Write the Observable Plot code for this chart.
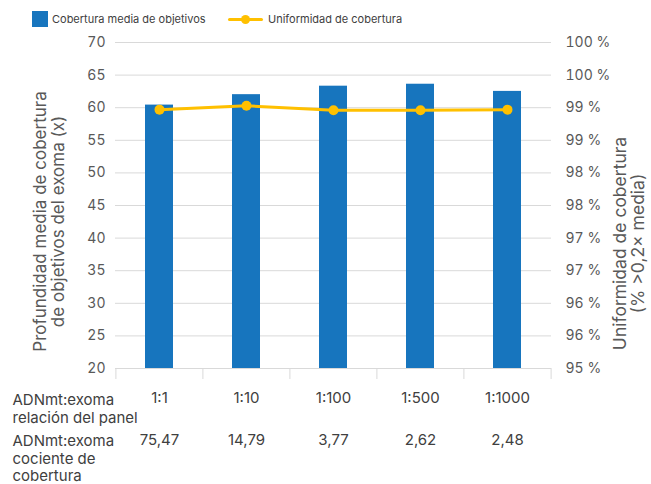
<!DOCTYPE html>
<html>
<head>
<meta charset="utf-8">
<script src="https://cdn.jsdelivr.net/npm/d3@7"></script>
<script src="https://cdn.jsdelivr.net/npm/@observablehq/plot@0.6"></script>
<style>
  html, body { margin: 0; padding: 0; background: #ffffff; }
  #wrap { position: relative; width: 651px; height: 484px; font-family: Inter, "Noto Sans", sans-serif; }
  #chart { position: absolute; left: 0; top: 0; }
  .leg { position: absolute; font-size: 11px; line-height: 14px; color: #404040; white-space: nowrap; }
</style>
</head>
<body>
<div id="wrap">
  <div id="chart"></div>
  <div class="leg" style="left:32px; top:11px; width:16px; height:16px; background:#1775be;"></div>
  <div class="leg" style="left:52px; top:12px;">Cobertura media de objetivos</div>
  <div class="leg" style="left:228px; top:18px; width:35px; height:3px; background:#ffc000; border-radius:2px;"></div>
  <div class="leg" style="left:241px; top:15px; width:9px; height:9px; background:#ffc000; border-radius:50%;"></div>
  <div class="leg" style="left:268px; top:12px;">Uniformidad de cobertura</div>
</div>
<script>
// ---- data ----
const categories = ["1:1", "1:10", "1:100", "1:500", "1:1000"];
const coverageRatios = ["75,47", "14,79", "3,77", "2,62", "2,48"];
const meanDepth = [60.4, 62.0, 63.3, 63.6, 62.5];
const uniformity = [98.97, 99.03, 98.96, 98.96, 98.97];
const leftTicks = [20, 25, 30, 35, 40, 45, 50, 55, 60, 65, 70];
const rightTicks = [95, 95.5, 96, 96.5, 97, 97.5, 98, 98.5, 99, 99.5, 100];
const rightTickLabels = ["95 %", "96 %", "96 %", "97 %", "97 %", "98 %", "98 %", "99 %", "99 %", "100 %", "100 %"];
const leftTitle = "Profundidad media de cobertura\nde objetivos del exoma (x)";
const rightTitle = "Uniformidad de cobertura\n(% >0,2× media)";
const rowLabel1 = "ADNmt:exoma\nrelación del panel";
const rowLabel2 = "ADNmt:exoma\ncociente de\ncobertura";

// ---- build ----
const yMin = leftTicks[0], yMax = leftTicks[leftTicks.length - 1];
const rMin = rightTicks[0], rMax = rightTicks[rightTicks.length - 1];
const toLeft = v => yMin + (v - rMin) * (yMax - yMin) / (rMax - rMin);
const rightMap = new Map(rightTicks.map((t, i) => [Math.round(toLeft(t) * 1000) / 1000, rightTickLabels[i]]));

const data = categories.map((c, i) => ({cat: c, depth: meanDepth[i], unif: uniformity[i], ratio: coverageRatios[i]}));

const W = 651, H = 484, mL = 115, mR = 100, mT = 42, mB = 116;
const step = (W - mL - mR) / categories.length;
const grid = "#d9d9d9";
const tickColor = "#595959";
const textColor = "#404040";

const chart = Plot.plot({
  width: W, height: H,
  marginLeft: mL, marginRight: mR, marginTop: mT, marginBottom: mB,
  style: {fontFamily: "Inter, 'Noto Sans', sans-serif", fontSize: "14px", color: tickColor, background: "transparent", overflow: "visible"},
  x: {domain: categories, paddingInner: 0.68, paddingOuter: 0.34},
  y: {domain: [yMin, yMax]},
  marks: [
    Plot.gridY(leftTicks, {stroke: grid, strokeOpacity: 1, strokeWidth: 1}),
    Plot.axisY(leftTicks, {anchor: "left", tickSize: 0, tickPadding: 10, label: null, fontSize: 14, fill: tickColor}),
    Plot.axisY(rightTicks.map(toLeft), {anchor: "right", tickSize: 0, tickPadding: 14, label: null, fontSize: 14, fill: tickColor,
      tickFormat: d => rightMap.get(Math.round(d * 1000) / 1000)}),
    Plot.axisX({ticks: categories, tickSize: 11, tickFormat: () => "", label: null, dx: -step / 2, stroke: grid}),
    Plot.axisX({ticks: [categories[categories.length - 1]], tickSize: 11, tickFormat: () => "", label: null, dx: step / 2, stroke: grid}),
    Plot.barY(data, {x: "cat", y1: yMin, y2: "depth", fill: "#1775be"}),
    Plot.line(data, {x: "cat", y: d => toLeft(d.unif), stroke: "#ffc000", strokeWidth: 3}),
    Plot.dot(data, {x: "cat", y: d => toLeft(d.unif), r: 5, fill: "#ffc000", stroke: "none"}),
    Plot.text([leftTitle], {text: d => d, frameAnchor: "left", textAnchor: "middle", lineAnchor: "middle", rotate: -90, dx: -66, dy: 16, fontSize: 17, lineHeight: 1.06, fill: tickColor}),
    Plot.text([rightTitle], {text: d => d, frameAnchor: "right", textAnchor: "middle", lineAnchor: "middle", rotate: -90, dx: 78, dy: 38, fontSize: 17.5, lineHeight: 1.04, fill: tickColor}),
    Plot.text(data, {x: "cat", text: "cat", frameAnchor: "bottom", lineAnchor: "top", dy: 24, fontSize: 15, fill: textColor}),
    Plot.text(data, {x: "cat", text: "ratio", frameAnchor: "bottom", lineAnchor: "top", dy: 66, fontSize: 15, fill: textColor}),
    Plot.text([rowLabel1], {text: d => d, frameAnchor: "bottom-left", textAnchor: "start", lineAnchor: "top", dx: -103, dy: 24, fontSize: 15, lineHeight: 1.2, fill: textColor}),
    Plot.text([rowLabel2], {text: d => d, frameAnchor: "bottom-left", textAnchor: "start", lineAnchor: "top", dx: -103, dy: 65, fontSize: 15, lineHeight: 1.18, fill: textColor})
  ]
});
document.getElementById("chart").appendChild(chart);
</script>
</body>
</html>
